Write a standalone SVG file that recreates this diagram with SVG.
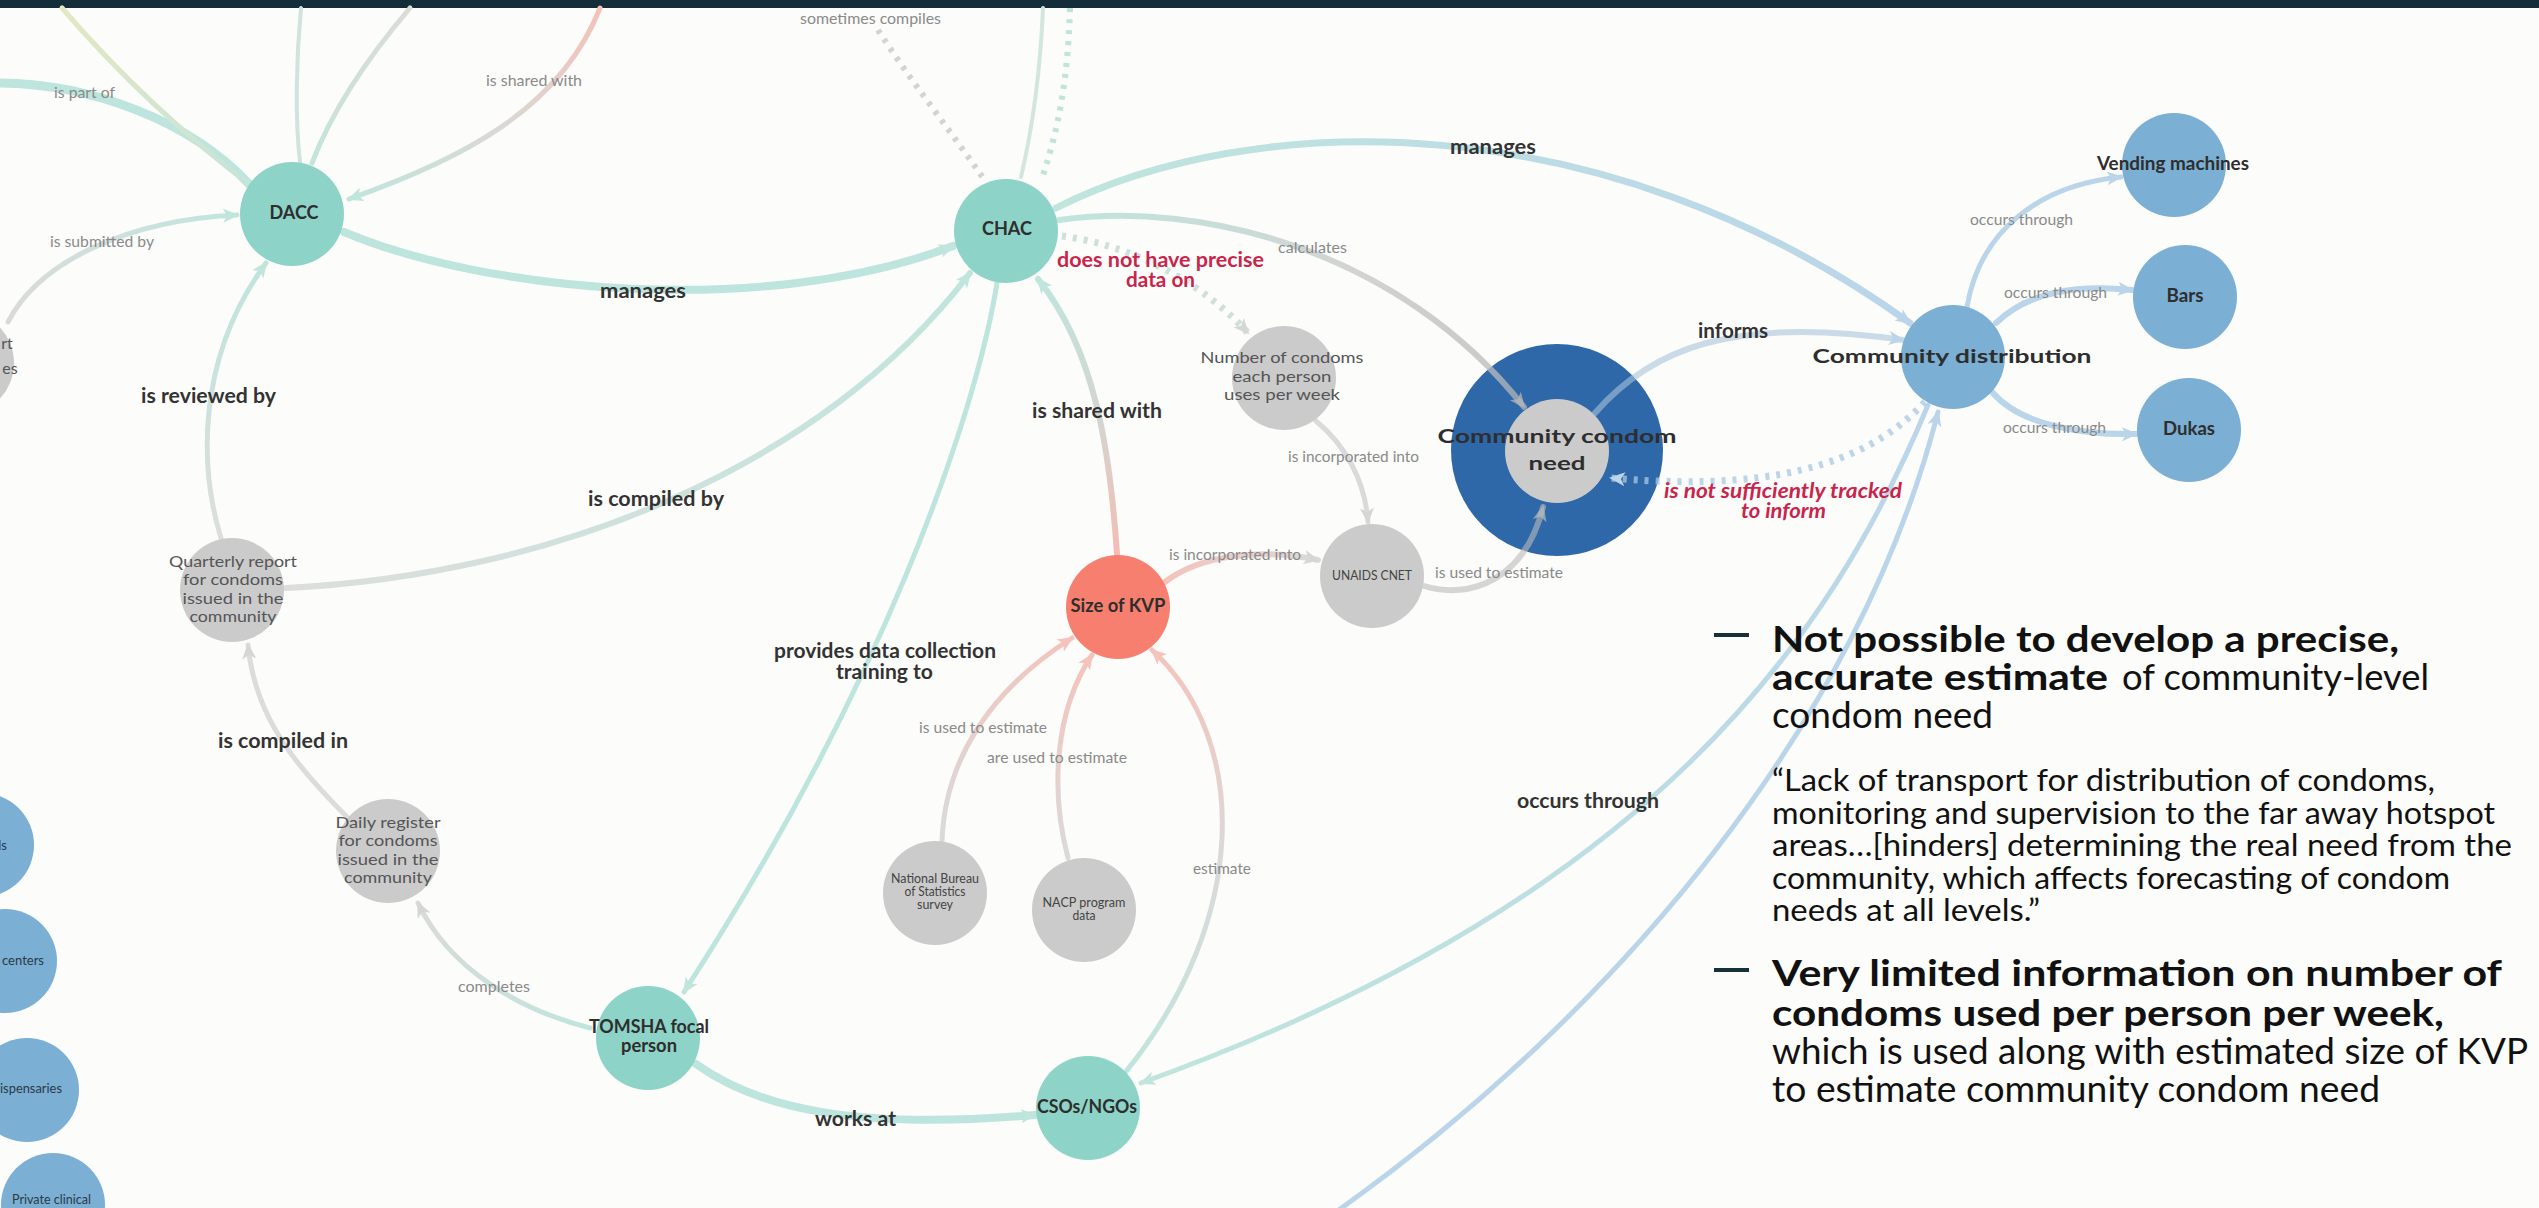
<svg xmlns="http://www.w3.org/2000/svg" width="2539" height="1208" viewBox="0 0 2539 1208">
<style>
.bg{fill:#fcfcfa}
.e{fill:none;stroke-linecap:round}
.d{fill:none;stroke-linecap:butt;stroke-dasharray:4 7}
.teal{fill:#8dd3c7}.gray{fill:#cbcbcb}.salmon{fill:#f77f6f}.blue{fill:#7bafd4}.dblue{fill:#2e68a8}
.lbl{font-family:Lato,"Liberation Sans",sans-serif;font-size:15px;fill:#8a8a8a;text-anchor:middle}
.blbl{font-family:Lato,"Liberation Sans",sans-serif;font-size:20px;font-weight:700;fill:#333;text-anchor:middle}
.red{fill:#c8254c}
.nt{font-family:Lato,"Liberation Sans",sans-serif;font-size:18px;font-weight:700;fill:#2e2e2e;text-anchor:middle}
.gt{font-family:Lato,"Liberation Sans",sans-serif;font-size:16px;fill:#555;text-anchor:middle}
.st{font-family:Lato,"Liberation Sans",sans-serif;font-size:13px;fill:#444;text-anchor:middle}
.lt{font-family:Lato,"Liberation Sans",sans-serif;font-size:13px;fill:#2b3a47}
.pb{font-family:Lato,"Liberation Sans",sans-serif;font-size:36px;font-weight:700;fill:#111}
.pr{font-family:Lato,"Liberation Sans",sans-serif;font-size:36px;fill:#111}
.pq{font-family:Lato,"Liberation Sans",sans-serif;font-size:30px;fill:#111}
</style>
<defs>
<marker id="ah-teal" viewBox="0 0 16 16" refX="14" refY="8" markerWidth="16" markerHeight="16" markerUnits="userSpaceOnUse" orient="auto"><path d="M0,1 L16,8 L0,15 L4,8 Z" fill="#bfe5dd"/></marker>
<marker id="ah-gray" viewBox="0 0 16 16" refX="14" refY="8" markerWidth="16" markerHeight="16" markerUnits="userSpaceOnUse" orient="auto"><path d="M0,1 L16,8 L0,15 L4,8 Z" fill="#d6d6d6"/></marker>
<marker id="ah-grayt" viewBox="0 0 16 16" refX="14" refY="8" markerWidth="16" markerHeight="16" markerUnits="userSpaceOnUse" orient="auto"><path d="M0,1 L16,8 L0,15 L4,8 Z" fill="#bbbbbb" fill-opacity="0.7"/></marker>
<marker id="ah-salmon" viewBox="0 0 16 16" refX="14" refY="8" markerWidth="16" markerHeight="16" markerUnits="userSpaceOnUse" orient="auto"><path d="M0,1 L16,8 L0,15 L4,8 Z" fill="#f5c3bb"/></marker>
<marker id="ah-blue" viewBox="0 0 16 16" refX="14" refY="8" markerWidth="16" markerHeight="16" markerUnits="userSpaceOnUse" orient="auto"><path d="M0,1 L16,8 L0,15 L4,8 Z" fill="#bad5ea"/></marker>
<linearGradient id="g2" gradientUnits="userSpaceOnUse" x1="62" y1="8" x2="252" y2="186"><stop offset="0" stop-color="#e2e8c2"/><stop offset="1" stop-color="#c6e4d9"/></linearGradient>
<linearGradient id="g4" gradientUnits="userSpaceOnUse" x1="410" y1="8" x2="312" y2="163"><stop offset="0" stop-color="#dcdcd6"/><stop offset="1" stop-color="#c4e4dc"/></linearGradient>
<linearGradient id="g5" gradientUnits="userSpaceOnUse" x1="600" y1="8" x2="349" y2="199"><stop offset="0" stop-color="#f3c2b8"/><stop offset="0.5" stop-color="#d9d9d6"/><stop offset="1" stop-color="#bfe5dd"/></linearGradient>
<linearGradient id="g6" gradientUnits="userSpaceOnUse" x1="8" y1="322" x2="237" y2="215"><stop offset="0" stop-color="#dadada"/><stop offset="1" stop-color="#c2e5de"/></linearGradient>
<linearGradient id="g8" gradientUnits="userSpaceOnUse" x1="221" y1="538" x2="266" y2="263"><stop offset="0" stop-color="#dcdedc"/><stop offset="1" stop-color="#bfe5dd"/></linearGradient>
<linearGradient id="g9" gradientUnits="userSpaceOnUse" x1="286" y1="588" x2="970" y2="273"><stop offset="0" stop-color="#dcdedd"/><stop offset="1" stop-color="#bfe5dd"/></linearGradient>
<linearGradient id="g11" gradientUnits="userSpaceOnUse" x1="590" y1="1028" x2="418" y2="903"><stop offset="0" stop-color="#bfe5dd"/><stop offset="1" stop-color="#dadada"/></linearGradient>
<linearGradient id="g14" gradientUnits="userSpaceOnUse" x1="1124" y1="1074" x2="1152" y2="650"><stop offset="0" stop-color="#bfe5dd"/><stop offset="0.5" stop-color="#dadada"/><stop offset="1" stop-color="#f5c3bb"/></linearGradient>
<linearGradient id="g15" gradientUnits="userSpaceOnUse" x1="942" y1="841" x2="1072" y2="638"><stop offset="0" stop-color="#dadada"/><stop offset="1" stop-color="#f5c3bb"/></linearGradient>
<linearGradient id="g16" gradientUnits="userSpaceOnUse" x1="1068" y1="858" x2="1092" y2="655"><stop offset="0" stop-color="#dadada"/><stop offset="1" stop-color="#f5c3bb"/></linearGradient>
<linearGradient id="g17" gradientUnits="userSpaceOnUse" x1="1117" y1="554" x2="1038" y2="279"><stop offset="0" stop-color="#f2bdb4"/><stop offset="0.5" stop-color="#d3d6d2"/><stop offset="1" stop-color="#bfe5dd"/></linearGradient>
<linearGradient id="g18" gradientUnits="userSpaceOnUse" x1="1165" y1="582" x2="1318" y2="560"><stop offset="0" stop-color="#f5c3bb"/><stop offset="1" stop-color="#dadada"/></linearGradient>
<linearGradient id="g21" gradientUnits="userSpaceOnUse" x1="1059" y1="220" x2="1524" y2="407"><stop offset="0" stop-color="#bfe5dd"/><stop offset="0.6" stop-color="#d3d3d3"/><stop offset="1" stop-color="#b5b5b5" stop-opacity="0.7"/></linearGradient>
<linearGradient id="g23" gradientUnits="userSpaceOnUse" x1="1056" y1="208" x2="1910" y2="323"><stop offset="0" stop-color="#bfe5dd"/><stop offset="1" stop-color="#bad5ea"/></linearGradient>
<linearGradient id="g26" gradientUnits="userSpaceOnUse" x1="1928" y1="405" x2="1141" y2="1083"><stop offset="0" stop-color="#bad5ea"/><stop offset="1" stop-color="#bfe5dd"/></linearGradient>
</defs>
<rect class="bg" x="0" y="0" width="2539" height="1208"/>
<rect x="0" y="0" width="2539" height="8" fill="#132d3b"/>

<g id="node-community-condom-need">
<circle class="dblue" cx="1557" cy="450" r="106"/>
<circle class="gray" cx="1557" cy="451" r="52"/>
</g>

<g id="connectors">
<path class="e" d="M -5,83 C 90,83 190,120 250,185" stroke="#bde5dd" stroke-width="9"/>
<path class="e" d="M 62,8 Q 150,110 252,186" stroke="url(#g2)" stroke-width="5"/>
<path class="e" d="M 301,8 C 296,60 295,120 300,162" stroke="#cfe3df" stroke-width="4"/>
<path class="e" d="M 410,8 Q 340,90 312,163" stroke="url(#g4)" stroke-width="5"/>
<path class="e" d="M 600,8 C 560,110 460,160 349,199" stroke="url(#g5)" stroke-width="5" marker-end="url(#ah-teal)"/>
<path class="e" d="M 8,322 C 40,260 130,220 237,215" stroke="url(#g6)" stroke-width="5" marker-end="url(#ah-teal)"/>
<path class="e" d="M 344,232 C 480,290 760,320 953,246" stroke="#bde5dd" stroke-width="8" marker-end="url(#ah-teal)"/>
<path class="e" d="M 221,538 C 200,470 195,360 266,263" stroke="url(#g8)" stroke-width="5" marker-end="url(#ah-teal)"/>
<path class="e" d="M 286,588 C 550,575 820,470 970,273" stroke="url(#g9)" stroke-width="6" marker-end="url(#ah-teal)"/>
<path class="e" d="M 997,283 C 975,420 880,690 684,992" stroke="#bde5dd" stroke-width="5" marker-end="url(#ah-teal)"/>
<path class="e" d="M 590,1028 C 520,1010 450,970 418,903" stroke="url(#g11)" stroke-width="5" marker-end="url(#ah-gray)"/>
<path class="e" d="M 348,818 C 300,770 255,720 248,645" stroke="#dcdcdc" stroke-width="5" marker-end="url(#ah-gray)"/>
<path class="e" d="M 696,1064 C 760,1110 860,1130 1035,1115" stroke="#bde5dd" stroke-width="8" marker-end="url(#ah-teal)"/>
<path class="e" d="M 1124,1074 C 1250,920 1250,740 1152,650" stroke="url(#g14)" stroke-width="5" marker-end="url(#ah-salmon)"/>
<path class="e" d="M 942,841 C 945,760 990,690 1072,638" stroke="url(#g15)" stroke-width="5" marker-end="url(#ah-salmon)"/>
<path class="e" d="M 1068,858 C 1050,790 1055,710 1092,655" stroke="url(#g16)" stroke-width="5" marker-end="url(#ah-salmon)"/>
<path class="e" d="M 1117,554 C 1110,450 1095,350 1038,279" stroke="url(#g17)" stroke-width="6" marker-end="url(#ah-teal)"/>
<path class="e" d="M 1165,582 C 1200,555 1260,548 1318,560" stroke="url(#g18)" stroke-width="6" marker-end="url(#ah-gray)"/>
<path class="e" d="M 1316,421 C 1345,445 1365,480 1368,522" stroke="#dadada" stroke-width="5" marker-end="url(#ah-gray)"/>
<path class="e" d="M 1424,586 C 1470,600 1525,580 1543,507" stroke="#bbbbbb" stroke-opacity="0.6" stroke-width="6" marker-end="url(#ah-grayt)"/>
<path class="e" d="M 1059,220 C 1200,200 1400,250 1524,407" stroke="url(#g21)" stroke-width="6" marker-end="url(#ah-grayt)"/>
<path class="d" d="M 1062,236 C 1130,245 1200,280 1248,333" stroke="#cfe0dc" stroke-width="7" marker-end="url(#ah-gray)"/>
<path class="e" d="M 1056,208 C 1250,110 1600,100 1910,323" stroke="url(#g23)" stroke-width="7" marker-end="url(#ah-blue)"/>
<path class="e" d="M 1595,413 C 1650,350 1730,315 1903,340" stroke="#a9c3d8" stroke-opacity="0.6" stroke-width="6" marker-end="url(#ah-blue)"/>
<path class="d" d="M 1925,402 C 1880,450 1800,495 1611,478" stroke="#a9c8e2" stroke-opacity="0.75" stroke-width="7" marker-end="url(#ah-blue)"/>
<path class="e" d="M 1928,405 C 1830,640 1650,900 1141,1083" stroke="url(#g26)" stroke-width="5" marker-end="url(#ah-teal)"/>
<path class="e" d="M 1336,1212 C 1620,1010 1860,720 1938,412" stroke="#bad5ea" stroke-width="5" marker-end="url(#ah-blue)"/>
<path class="d" d="M 878,30 C 910,80 950,130 983,178" stroke="#d3d3d3" stroke-width="6"/>
<path class="e" d="M 1043,8 C 1040,80 1032,130 1021,177" stroke="#d3e6dd" stroke-width="4"/>
<path class="d" d="M 1070,8 C 1068,80 1058,130 1043,175" stroke="#c0e3dc" stroke-width="6"/>
<path class="e" d="M 1967,307 C 1980,230 2040,185 2121,177" stroke="#bad5ea" stroke-width="5" marker-end="url(#ah-blue)"/>
<path class="e" d="M 1996,323 C 2030,290 2080,285 2132,290" stroke="#bad5ea" stroke-width="6" marker-end="url(#ah-blue)"/>
<path class="e" d="M 1992,392 C 2020,425 2080,435 2136,434" stroke="#bad5ea" stroke-width="6" marker-end="url(#ah-blue)"/>
</g>

<g id="edge-labels">
<text class="lbl" x="870.5" y="24" textLength="141" lengthAdjust="spacingAndGlyphs">sometimes compiles</text>
<text class="lbl" x="84.5" y="98" textLength="61" lengthAdjust="spacingAndGlyphs">is part of</text>
<text class="lbl" x="534" y="86" textLength="96" lengthAdjust="spacingAndGlyphs">is shared with</text>
<text class="lbl" x="102" y="247" textLength="104" lengthAdjust="spacingAndGlyphs">is submitted by</text>
<text class="lbl" x="1312.5" y="253" textLength="69" lengthAdjust="spacingAndGlyphs">calculates</text>
<text class="lbl" x="2021.5" y="225" textLength="103" lengthAdjust="spacingAndGlyphs">occurs through</text>
<text class="lbl" x="2055.5" y="298" textLength="103" lengthAdjust="spacingAndGlyphs">occurs through</text>
<text class="lbl" x="2054.5" y="433" textLength="103" lengthAdjust="spacingAndGlyphs">occurs through</text>
<text class="lbl" x="1353.5" y="462" textLength="131" lengthAdjust="spacingAndGlyphs">is incorporated into</text>
<text class="lbl" x="1235" y="560" textLength="132" lengthAdjust="spacingAndGlyphs">is incorporated into</text>
<text class="lbl" x="1499" y="578" textLength="128" lengthAdjust="spacingAndGlyphs">is used to estimate</text>
<text class="lbl" x="983" y="733" textLength="128" lengthAdjust="spacingAndGlyphs">is used to estimate</text>
<text class="lbl" x="1057" y="763" textLength="140" lengthAdjust="spacingAndGlyphs">are used to estimate</text>
<text class="lbl" x="1222" y="874" textLength="58" lengthAdjust="spacingAndGlyphs">estimate</text>
<text class="lbl" x="494" y="992" textLength="72" lengthAdjust="spacingAndGlyphs">completes</text>
<text class="blbl" x="643" y="298" textLength="86" lengthAdjust="spacingAndGlyphs">manages</text>
<text class="blbl" x="1493" y="154" textLength="86" lengthAdjust="spacingAndGlyphs">manages</text>
<text class="blbl" x="208.5" y="403" textLength="135" lengthAdjust="spacingAndGlyphs">is reviewed by</text>
<text class="blbl" x="656" y="506" textLength="136" lengthAdjust="spacingAndGlyphs">is compiled by</text>
<text class="blbl" x="283" y="748" textLength="130" lengthAdjust="spacingAndGlyphs">is compiled in</text>
<text class="blbl" x="855.5" y="1126" textLength="81" lengthAdjust="spacingAndGlyphs">works at</text>
<text class="blbl" x="885" y="658" textLength="222" lengthAdjust="spacingAndGlyphs">provides data collection</text>
<text class="blbl" x="884.5" y="679" textLength="97" lengthAdjust="spacingAndGlyphs">training to</text>
<text class="blbl" x="1097" y="418" textLength="130" lengthAdjust="spacingAndGlyphs">is shared with</text>
<text class="blbl" x="1733" y="338" textLength="70" lengthAdjust="spacingAndGlyphs">informs</text>
<text class="blbl" x="1588" y="808" textLength="142" lengthAdjust="spacingAndGlyphs">occurs through</text>
<text class="blbl red" x="1160.5" y="267" textLength="207" lengthAdjust="spacingAndGlyphs">does not have precise</text>
<text class="blbl red" x="1160.5" y="287" textLength="69" lengthAdjust="spacingAndGlyphs">data on</text>
<text class="blbl red" x="1783" y="498" font-style="italic" textLength="238" lengthAdjust="spacingAndGlyphs">is not sufficiently tracked</text>
<text class="blbl red" x="1783.5" y="518" font-style="italic" textLength="85" lengthAdjust="spacingAndGlyphs">to inform</text>
</g>

<g id="node-dacc"><circle class="teal" cx="292" cy="214" r="52"/><text class="nt" x="294" y="219" textLength="49" lengthAdjust="spacingAndGlyphs">DACC</text></g>
<g id="node-chac"><circle class="teal" cx="1006" cy="231" r="52"/><text class="nt" x="1007" y="235" textLength="50" lengthAdjust="spacingAndGlyphs">CHAC</text></g>
<g id="node-tomsha"><circle class="teal" cx="648" cy="1038" r="52"/><text class="nt" x="649" y="1033" textLength="120" lengthAdjust="spacingAndGlyphs">TOMSHA focal</text><text class="nt" x="649" y="1052" textLength="56" lengthAdjust="spacingAndGlyphs">person</text></g>
<g id="node-csos"><circle class="teal" cx="1088" cy="1108" r="52"/><text class="nt" x="1087" y="1113" textLength="100" lengthAdjust="spacingAndGlyphs">CSOs/NGOs</text></g>
<g id="node-kvp"><circle class="salmon" cx="1118" cy="607" r="52"/><text class="nt" x="1118" y="612" textLength="95" lengthAdjust="spacingAndGlyphs">Size of KVP</text></g>
<g id="node-number-condoms"><circle class="gray" cx="1284" cy="378" r="52"/><text class="gt" x="1282" y="363" font-size="17" textLength="163" lengthAdjust="spacingAndGlyphs">Number of condoms</text><text class="gt" x="1282" y="382" font-size="17" textLength="99" lengthAdjust="spacingAndGlyphs">each person</text><text class="gt" x="1282" y="400" font-size="17" textLength="116" lengthAdjust="spacingAndGlyphs">uses per week</text></g>
<g id="node-unaids"><circle class="gray" cx="1372" cy="576" r="52"/><text class="st" x="1372" y="580" textLength="80" lengthAdjust="spacingAndGlyphs">UNAIDS CNET</text></g>
<g id="node-nbs"><circle class="gray" cx="935" cy="893" r="52"/><text class="st" x="935" y="883" textLength="88" lengthAdjust="spacingAndGlyphs">National Bureau</text><text class="st" x="935" y="896" textLength="61" lengthAdjust="spacingAndGlyphs">of Statistics</text><text class="st" x="935" y="909" textLength="36" lengthAdjust="spacingAndGlyphs">survey</text></g>
<g id="node-nacp"><circle class="gray" cx="1084" cy="910" r="52"/><text class="st" x="1084" y="907" textLength="83" lengthAdjust="spacingAndGlyphs">NACP program</text><text class="st" x="1084" y="920" textLength="23" lengthAdjust="spacingAndGlyphs">data</text></g>
<g id="node-quarterly"><circle class="gray" cx="232" cy="590" r="52"/><text class="gt" x="233" y="567" textLength="128" lengthAdjust="spacingAndGlyphs">Quarterly report</text><text class="gt" x="233" y="585" textLength="100" lengthAdjust="spacingAndGlyphs">for condoms</text><text class="gt" x="233" y="604" textLength="101" lengthAdjust="spacingAndGlyphs">issued in the</text><text class="gt" x="233" y="622" textLength="87" lengthAdjust="spacingAndGlyphs">community</text></g>
<g id="node-daily"><circle class="gray" cx="388" cy="851" r="52"/><text class="gt" x="388" y="828" textLength="105" lengthAdjust="spacingAndGlyphs">Daily register</text><text class="gt" x="388" y="846" textLength="99" lengthAdjust="spacingAndGlyphs">for condoms</text><text class="gt" x="388" y="865" textLength="101" lengthAdjust="spacingAndGlyphs">issued in the</text><text class="gt" x="388" y="883" textLength="88" lengthAdjust="spacingAndGlyphs">community</text></g>
<g id="node-need-label"><text class="nt" x="1557" y="443" font-size="24" textLength="239" lengthAdjust="spacingAndGlyphs">Community condom</text><text class="nt" x="1557" y="470" font-size="24" textLength="57" lengthAdjust="spacingAndGlyphs">need</text></g>
<g id="node-community-distribution"><circle class="blue" cx="1953" cy="357" r="52"/><text class="nt" x="1952" y="363" font-size="24" textLength="279" lengthAdjust="spacingAndGlyphs">Community distribution</text></g>
<g id="node-vending"><circle class="blue" cx="2174" cy="165" r="52"/><text class="nt" x="2173" y="170" font-size="17" textLength="152" lengthAdjust="spacingAndGlyphs">Vending machines</text></g>
<g id="node-bars"><circle class="blue" cx="2185" cy="297" r="52"/><text class="nt" x="2185" y="302" font-size="17" textLength="37" lengthAdjust="spacingAndGlyphs">Bars</text></g>
<g id="node-dukas"><circle class="blue" cx="2189" cy="430" r="52"/><text class="nt" x="2189" y="435" font-size="17" textLength="52" lengthAdjust="spacingAndGlyphs">Dukas</text></g>
<g id="node-left-report"><circle class="gray" cx="-38" cy="363" r="52"/><text class="gt" x="7" y="349" font-size="14" text-anchor="end">rt</text><text class="gt" x="10" y="374" font-size="14" text-anchor="end">es</text></g>
<g id="node-left-1"><circle class="blue" cx="-18" cy="845" r="52"/><text class="lt" x="7" y="850" text-anchor="end">ls</text></g>
<g id="node-left-2"><circle class="blue" cx="5" cy="961" r="52"/><text class="lt" x="2" y="965" textLength="42" lengthAdjust="spacingAndGlyphs">centers</text></g>
<g id="node-left-3"><circle class="blue" cx="27" cy="1090" r="52"/><text class="lt" x="0" y="1093" textLength="62" lengthAdjust="spacingAndGlyphs">ispensaries</text></g>
<g id="node-left-4"><circle class="blue" cx="53" cy="1205" r="52"/><text class="lt" x="12" y="1204" textLength="79" lengthAdjust="spacingAndGlyphs">Private clinical</text></g>

<g id="notes">
<line x1="1714" y1="635" x2="1749" y2="635" stroke="#16303c" stroke-width="4"/>
<text class="pb" x="1772" y="652" textLength="627" lengthAdjust="spacingAndGlyphs">Not possible to develop a precise,</text>
<text class="pb" x="1772" y="690" textLength="336" lengthAdjust="spacingAndGlyphs">accurate estimate</text>
<text class="pr" x="2122" y="690" textLength="307" lengthAdjust="spacingAndGlyphs">of community-level</text>
<text class="pr" x="1772" y="728" textLength="221" lengthAdjust="spacingAndGlyphs">condom need</text>
<text class="pq" x="1772" y="791" textLength="663" lengthAdjust="spacingAndGlyphs">“Lack of transport for distribution of condoms,</text>
<text class="pq" x="1772" y="824" textLength="723" lengthAdjust="spacingAndGlyphs">monitoring and supervision to the far away hotspot</text>
<text class="pq" x="1772" y="856" textLength="740" lengthAdjust="spacingAndGlyphs">areas…[hinders] determining the real need from the</text>
<text class="pq" x="1772" y="889" textLength="678" lengthAdjust="spacingAndGlyphs">community, which affects forecasting of condom</text>
<text class="pq" x="1772" y="921" textLength="268" lengthAdjust="spacingAndGlyphs">needs at all levels.”</text>
<line x1="1714" y1="970" x2="1749" y2="970" stroke="#16303c" stroke-width="4"/>
<text class="pb" x="1772" y="986" textLength="730" lengthAdjust="spacingAndGlyphs">Very limited information on number of</text>
<text class="pb" x="1772" y="1026" textLength="672" lengthAdjust="spacingAndGlyphs">condoms used per person per week,</text>
<text class="pr" x="1772" y="1064" textLength="756" lengthAdjust="spacingAndGlyphs">which is used along with estimated size of KVP</text>
<text class="pr" x="1772" y="1102" textLength="608" lengthAdjust="spacingAndGlyphs">to estimate community condom need</text>
</g>
</svg>
